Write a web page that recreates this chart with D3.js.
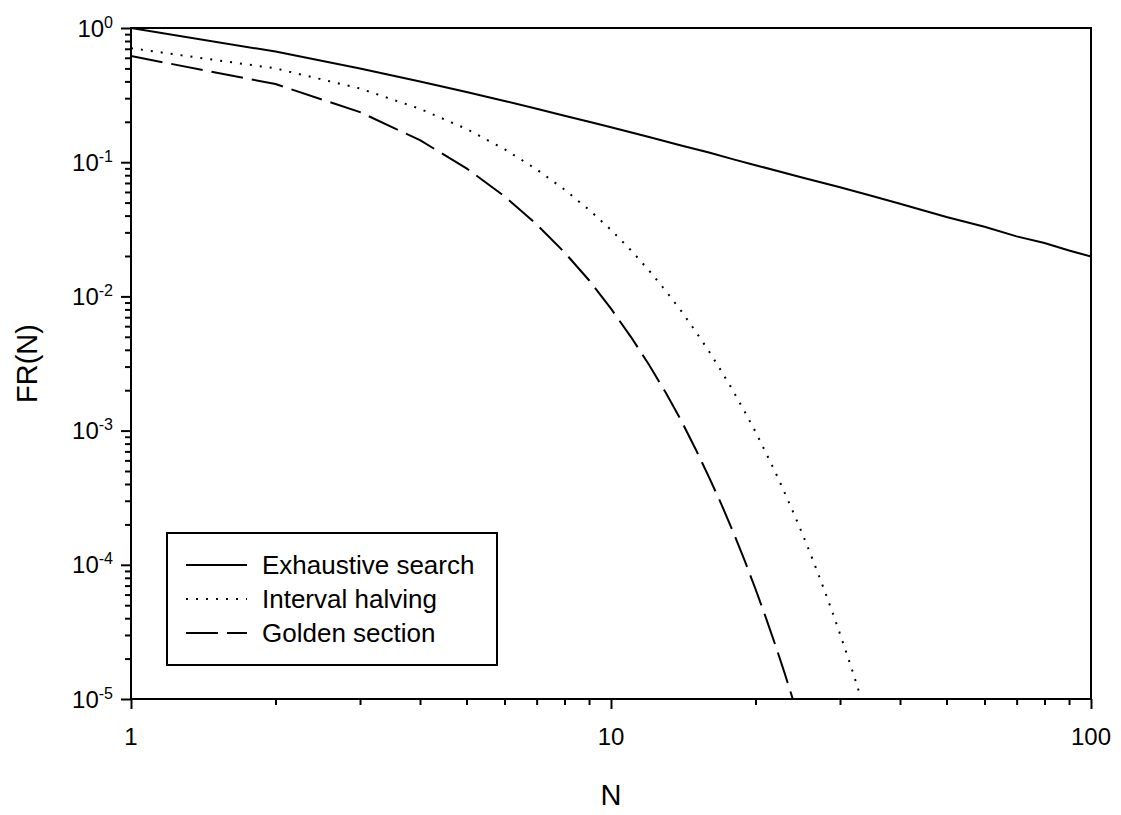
<!DOCTYPE html>
<html>
<head>
<meta charset="utf-8">
<script src="https://cdn.jsdelivr.net/npm/d3@7"></script>
<style>
  body { margin: 0; background: #fff; }
  text { font-family: "Liberation Sans", Arial, sans-serif; fill: #000; }
</style>
</head>
<body>
<script>
// values (log-log plot, points at integer N)

// exhaustive search, solid line
var exhaustiveN = [1, 2, 3, 4, 5, 6, 7, 8, 9, 10, 12, 14, 16, 18, 20, 25, 30, 35, 40, 50, 60, 70, 80, 90, 100];
var exhaustiveFR = [1.0, 0.667, 0.5, 0.4, 0.333, 0.286, 0.25, 0.222, 0.2, 0.182, 0.154, 0.133, 0.118, 0.105, 0.095,
  0.077, 0.065, 0.056, 0.049, 0.039, 0.033, 0.028, 0.025, 0.022, 0.0198];

// interval halving, dotted line
var halvingN = [1, 2, 3, 4, 5, 6, 7, 8, 9, 10, 11, 12, 13, 14, 15, 16, 17, 18, 19, 20, 21, 22, 23, 24, 25, 26, 27, 28, 29, 30, 31, 32, 33];
var halvingFR = [0.707, 0.5, 0.354, 0.25, 0.177, 0.125, 0.0884, 0.0625, 0.0442, 0.0313, 0.0221, 0.0156, 0.011, 0.0078,
  0.0055, 0.0039, 0.00276, 0.00195, 0.00138, 0.00098, 0.00069, 0.00049, 0.000345, 0.000244, 0.000173, 0.000122,
  0.0000863, 0.000061, 0.0000432, 0.0000305, 0.0000216, 0.0000153, 0.0000108];

// golden section, dashed line
var goldenN = [1, 2, 3, 4, 5, 6, 7, 8, 9, 10, 11, 12, 13, 14, 15, 16, 17, 18, 19, 20, 21, 22, 23, 24];
var goldenFR = [0.618, 0.382, 0.236, 0.146, 0.09, 0.0557, 0.0344, 0.0213, 0.0132, 0.0081, 0.005, 0.0031, 0.00192,
  0.00119, 0.00073, 0.00045, 0.00028, 0.000173, 0.000107, 0.000066, 0.0000408, 0.0000252, 0.0000156, 0.0000096];

var seriesNames = ["Exhaustive search", "Interval halving", "Golden section"];
var yTickPowers = [0, -1, -2, -3, -4, -5];
var xTickLabels = [1, 10, 100];

// svg size and plot box
var svgWidth = 1121;
var svgHeight = 815;
var margin = { top: 28, right: 30, bottom: 116, left: 131 };
var chartWidth = svgWidth - margin.left - margin.right;
var chartHeight = svgHeight - margin.top - margin.bottom;

var svg = d3.select("body")
  .append("svg")
  .attr("width", svgWidth)
  .attr("height", svgHeight);

var chartGroup = svg.append("g")
  .attr("transform", `translate(${margin.left}, ${margin.top})`);

// log scales both ways
var xScale = d3.scaleLog().domain([1, 100]).range([0, chartWidth]);
var yScale = d3.scaleLog().domain([1e-5, 1]).range([chartHeight, 0]);

function isMajor(v) {
  var p = Math.log10(v);
  return Math.abs(p - Math.round(p)) < 1e-9;
}

// axes, ticks only, labels added by hand for the superscripts
var bottomAxis = d3.axisBottom(xScale).tickValues(xScale.ticks()).tickFormat("").tickSizeOuter(0);
var leftAxis = d3.axisLeft(yScale).tickValues(yScale.ticks()).tickFormat("").tickSizeOuter(0);

var xAxisG = chartGroup.append("g")
  .attr("transform", `translate(0, ${chartHeight})`)
  .call(bottomAxis);
xAxisG.selectAll(".tick line")
  .attr("y2", d => isMajor(d) ? 10 : 6)
  .attr("stroke-width", 2);

var yAxisG = chartGroup.append("g").call(leftAxis);
yAxisG.selectAll(".tick line")
  .attr("x2", d => isMajor(d) ? -10 : -6)
  .attr("stroke-width", 2);

svg.selectAll(".domain").remove();

// frame round the plot
chartGroup.append("rect")
  .attr("x", 0)
  .attr("y", 0)
  .attr("width", chartWidth)
  .attr("height", chartHeight)
  .attr("fill", "none")
  .attr("stroke", "#000")
  .attr("stroke-width", 2);

// x tick labels
chartGroup.selectAll(".xlab")
  .data(xTickLabels)
  .enter()
  .append("text")
  .attr("class", "xlab")
  .attr("x", d => xScale(d))
  .attr("y", chartHeight + 46)
  .attr("text-anchor", "middle")
  .style("font-size", "24px")
  .text(d => d);

// y tick labels 10^p
var yLab = chartGroup.selectAll(".ylab")
  .data(yTickPowers)
  .enter()
  .append("text")
  .attr("class", "ylab")
  .attr("x", -18)
  .attr("y", d => yScale(Math.pow(10, d)) + 8.5)
  .attr("text-anchor", "end");
yLab.append("tspan").style("font-size", "24px").text("10");
yLab.append("tspan").style("font-size", "16px").attr("dy", -9).text(d => d);

// axis titles
chartGroup.append("text")
  .attr("x", chartWidth / 2)
  .attr("y", chartHeight + 106)
  .attr("text-anchor", "middle")
  .style("font-size", "29px")
  .text("N");

chartGroup.append("text")
  .attr("transform", `translate(${37 - margin.left}, ${chartHeight / 2}) rotate(-90)`)
  .attr("text-anchor", "middle")
  .style("font-size", "29px")
  .text("FR(N)");

// clip the curves to the plot box
svg.append("defs").append("clipPath")
  .attr("id", "plotclip")
  .append("rect")
  .attr("width", chartWidth)
  .attr("height", chartHeight);

var line = d3.line()
  .x(d => xScale(d[0]))
  .y(d => yScale(d[1]));

var series = [
  { pts: d3.zip(exhaustiveN, exhaustiveFR), dash: null, width: 2 },
  { pts: d3.zip(halvingN, halvingFR), dash: "2,8", width: 2 },
  { pts: d3.zip(goldenN, goldenFR), dash: "32,9", width: 2 }
];

chartGroup.append("g")
  .attr("clip-path", "url(#plotclip)")
  .selectAll("path")
  .data(series)
  .enter()
  .append("path")
  .attr("d", d => line(d.pts))
  .attr("fill", "none")
  .attr("stroke", "#000")
  .attr("stroke-width", d => d.width)
  .attr("stroke-dasharray", d => d.dash);

// legend box
var legend = svg.append("g").attr("transform", "translate(167, 533)");
legend.append("rect")
  .attr("width", 330)
  .attr("height", 132)
  .attr("fill", "#fff")
  .attr("stroke", "#000")
  .attr("stroke-width", 2);

var rows = legend.selectAll(".row")
  .data(seriesNames)
  .enter()
  .append("g")
  .attr("transform", (d, i) => `translate(0, ${32 + i * 34})`);

rows.append("line")
  .attr("x1", 19)
  .attr("x2", 80)
  .attr("stroke", "#000")
  .attr("stroke-width", (d, i) => i == 1 ? 1.8 : 2)
  .attr("stroke-dasharray", (d, i) => series[i].dash);

rows.append("text")
  .attr("x", 95)
  .attr("y", 9)
  .style("font-size", "26px")
  .text(d => d);
</script>
</body>
</html>
